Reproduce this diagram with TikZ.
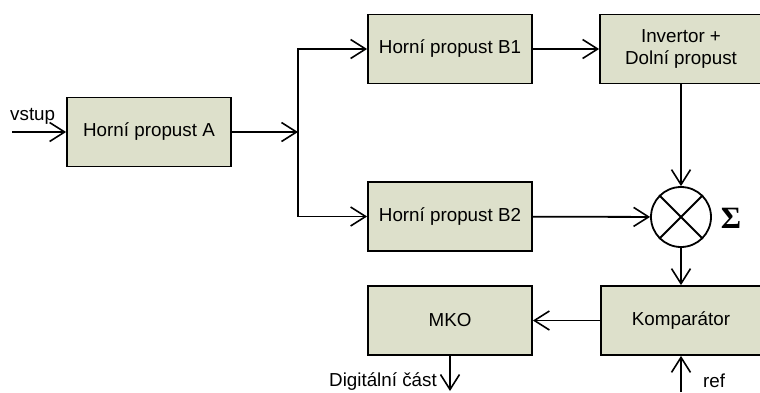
\documentclass[tikz,border=0pt]{standalone}
\usepackage{fontspec}
\setmainfont{Liberation Sans}
\newfontfamily\sigmafont{Liberation Serif}
\usetikzlibrary{arrows.meta}
\definecolor{boxfill}{RGB}{221,224,203}
\begin{document}
\begin{tikzpicture}
[
    x=1pt, y=-1pt,
    font=\fontsize{18.8}{22.5}\selectfont,
    block/.style={draw, fill=boxfill, line width=1.8pt, minimum width=164pt, minimum height=69pt, inner sep=0pt, align=center},
    sig/.style={draw, line width=1.8pt, -{Straight Barb[length=15pt, width=19pt, line width=1.6pt]}}
]
    \useasboundingbox (0,0) rectangle (760,392);
    \node [block] (a) at (149,132) {Horní propust A};
    \node [block] (b1) at (450,49) {Horní propust B1};
    \node [block] (b2) at (450,216.5) {Horní propust B2};
    \node [block, minimum width=162pt] (inv) at (681,49) {Invertor +\\Dolní propust};
    \node [draw, circle, minimum size=60pt, line width=1.8pt] (sum) at (681,217) {};
    \draw [line width=1.8pt] (sum.north west) -- (sum.south east)
        (sum.north east) -- (sum.south west);
    \node (sigma) at (731,218) {\fontsize{31}{36}\selectfont\sigmafont\bfseries Σ};
    \node [block, minimum width=160pt] (komp) at (681,320.5) {Komparátor};
    \node [block] (mko) at (450,320.5) {MKO};
    \coordinate (in) at (12,132);
    \coordinate (split) at (298,132);
    \coordinate (ref) at (681,392);
    \coordinate (dig) at (450,391);
    \node [anchor=base west, inner sep=0pt] (lin) at (10,120) {vstup};
    \node [anchor=base west, inner sep=0pt] (lref) at (703,387) {ref};
    \node [anchor=base east, inner sep=0pt] (ldig) at (437,386) {Digitální část};
    \draw [sig] (in) -- (a);
    \draw [sig] (a) -- (split);
    \draw [sig] (split) |- (b1);
    \draw [sig] (split) |- (b2);
    \draw [sig] (b1) -- (inv);
    \draw [sig] (inv) -- (sum);
    \draw [sig] (b2) -- (sum);
    \draw [sig] (sum) -- (komp);
    \draw [sig] (komp) -- (mko);
    \draw [sig] (ref) -- (komp);
    \draw [sig] (mko) -- (dig);
\end{tikzpicture}
\end{document}
